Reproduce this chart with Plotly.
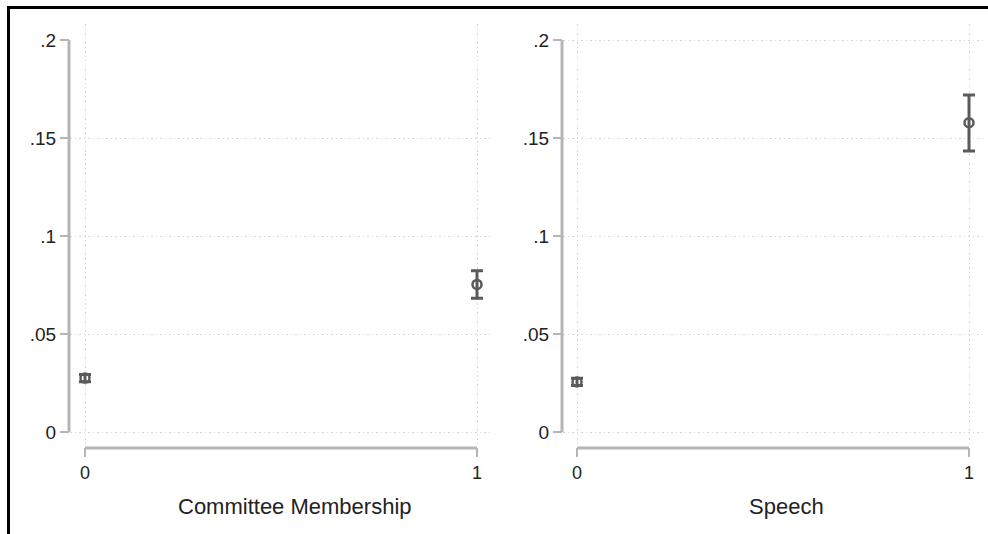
import plotly.graph_objects as go

# Marginal effects with 95% intervals, two panels
x_levels = [0, 1]
committee_est = [0.0275, 0.0753]
committee_lo = [0.0256, 0.0682]
committee_hi = [0.0294, 0.0823]
speech_est = [0.0255, 0.1578]
speech_lo = [0.0237, 0.1434]
speech_hi = [0.0274, 0.1719]
y_ticks = [0, 0.05, 0.1, 0.15, 0.2]
y_tick_text = ["0", ".05", ".1", ".15", ".2"]
x_tick_text = ["0", "1"]
titles = ["Committee Membership", "Speech"]

W, H = 988, 534
MARK = "#5a5a5a"
AXC = "#b5b5b5"
GRID = "#d6d6d6"
DASH = "1.5px,3px"
FONT = "Liberation Sans, Arial, sans-serif"


def px(x):
    return x / W


def py(y):
    return 1 - y / H


fig = go.Figure()

panels = [
    (committee_est, committee_lo, committee_hi, "x", "y"),
    (speech_est, speech_lo, speech_hi, "x2", "y2"),
]
for est, lo, hi, xa, ya in panels:
    fig.add_trace(go.Scatter(
        x=x_levels, y=est, xaxis=xa, yaxis=ya, mode="markers",
        marker=dict(symbol="circle-open", size=9, color=MARK,
                    line=dict(width=2.5, color=MARK)),
        error_y=dict(type="data", symmetric=False,
                     array=[h - e for h, e in zip(hi, est)],
                     arrayminus=[e - l for e, l in zip(est, lo)],
                     color=MARK, thickness=3, width=6),
        showlegend=False, cliponaxis=False,
    ))

plot_top, plot_bot = 24, 447
y_range = [-(plot_bot - 432) / 1960, (432 - plot_top) / 1960]

common_y = dict(
    range=y_range, tickvals=y_ticks, ticktext=y_tick_text,
    ticks="outside", ticklen=9, tickwidth=2, tickcolor=AXC,
    tickfont=dict(family=FONT, size=19, color="#222222"),
    showline=False, zeroline=False, fixedrange=True,
    domain=[py(plot_bot), py(plot_top)],
)
common_x = dict(
    tickvals=x_levels, ticktext=x_tick_text,
    ticks="outside", ticklen=9, tickwidth=2, tickcolor=AXC,
    tickfont=dict(family=FONT, size=18, color="#222222"),
    showline=False, zeroline=False, fixedrange=True,
    showgrid=True, gridcolor=GRID, griddash=DASH, gridwidth=1,
)

fig.update_layout(
    width=W, height=H, margin=dict(l=0, r=0, t=0, b=0),
    paper_bgcolor="white", plot_bgcolor="white",
    xaxis=dict(common_x, domain=[px(70), px(493)],
               range=[-15 / 392, 1 + 16 / 392], anchor="y"),
    xaxis2=dict(common_x, domain=[px(563), px(985)],
                range=[-14 / 392, 1 + 16 / 392], anchor="y2"),
    yaxis=dict(common_y, anchor="x", showgrid=False,
               minor=dict(tickvals=y_ticks[:-1], showgrid=True,
                          gridcolor=GRID, griddash=DASH,
                          gridwidth=1, ticks="")),
    yaxis2=dict(common_y, anchor="x2", showgrid=True, gridcolor=GRID,
                griddash=DASH, gridwidth=1),
)

shapes = []
# y-axis lines spanning the labelled range only
for xpix, ya in [(69, "y"), (562, "y2")]:
    shapes.append(dict(type="line", xref="paper", yref=ya,
                       x0=px(xpix), x1=px(xpix), y0=y_ticks[0], y1=y_ticks[-1],
                       line=dict(color=AXC, width=3)))
# x-axis lines between the two category ticks
for xa in ["x", "x2"]:
    shapes.append(dict(type="line", xref=xa, yref="paper",
                       x0=x_levels[0], x1=x_levels[-1],
                       y0=py(448), y1=py(448),
                       line=dict(color=AXC, width=3)))
# outer frame edges
shapes.append(dict(type="line", xref="paper", yref="paper",
                   x0=px(7), x1=1, y0=py(7.5), y1=py(7.5),
                   line=dict(color="black", width=3)))
shapes.append(dict(type="line", xref="paper", yref="paper",
                   x0=px(8.5), x1=px(8.5), y0=0, y1=py(6),
                   line=dict(color="black", width=3)))
fig.update_layout(shapes=shapes)

for title, xc in zip(titles, [295, 786]):
    fig.add_annotation(text=title, xref="paper", yref="paper",
                       x=px(xc), y=py(506), showarrow=False,
                       xanchor="center", yanchor="middle",
                       font=dict(family=FONT, size=22, color="#222222"))

fig.write_html("out.html")
